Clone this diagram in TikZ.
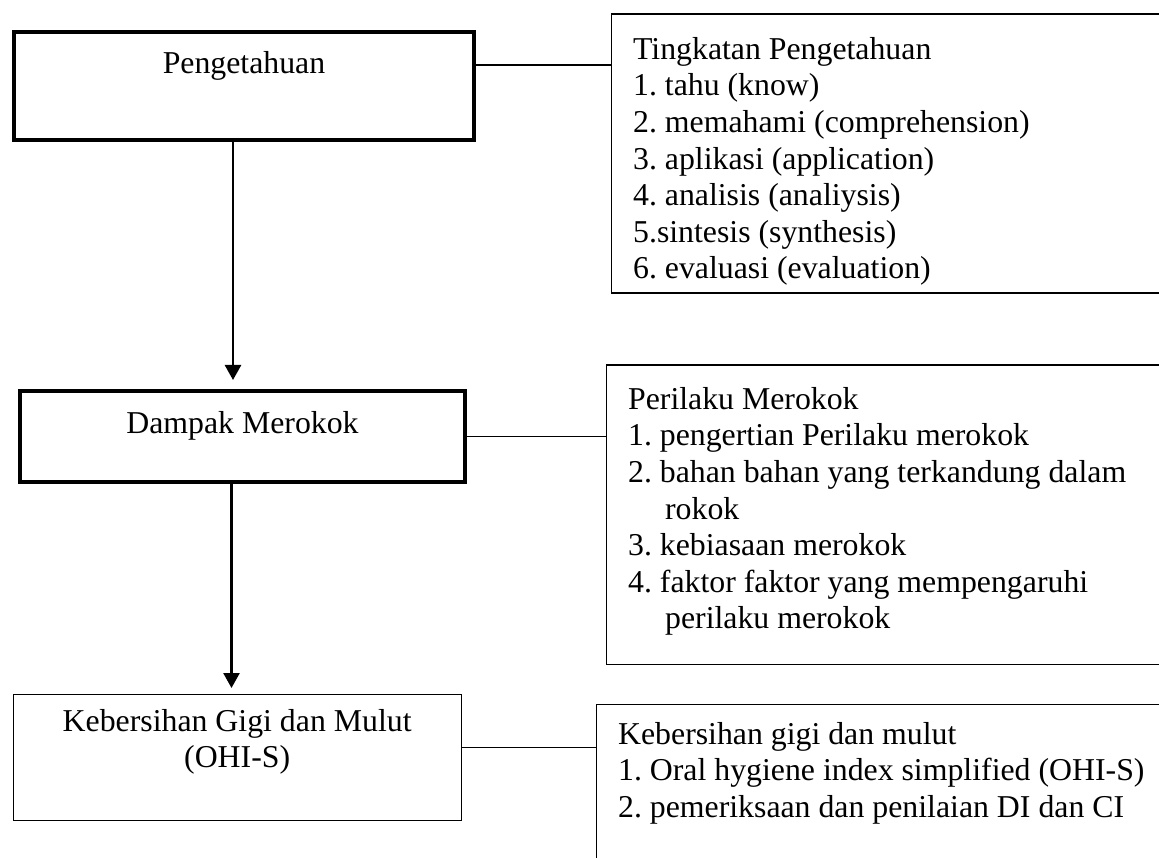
\documentclass[tikz,border=0pt]{standalone}
\usepackage{fontspec}
\setmainfont{Liberation Serif}
\usetikzlibrary{positioning, arrows.meta}
\frenchspacing

\newcommand{\midtext}[4]{\parbox[t][#2][t]{#1}{\centering\vspace*{#3}#4\par}}
\newcommand{\listtext}[4]{\parbox[t][#2][t]{#1}{\raggedright\leftskip=22pt\vspace*{#3}#4\par}}

\tikzset{
    mainbox/.style={draw, line width=4pt, inner sep=0pt, anchor=north west},
    plainbox/.style={draw, line width=1.3pt, inner sep=0pt, anchor=north west},
    link/.style={line width=1.3pt},
    flow/.style={line width=2.5pt, -{Triangle[width=16pt,length=15pt]}}
}

\begin{document}
\begin{tikzpicture}[x=1pt, y=-1pt, font=\fontsize{31.8}{36.6}\selectfont]
\useasboundingbox (0,0) rectangle (1159,858);
\clip (0,0) rectangle (1159,858);

% left column
\node[mainbox] (peng) at (12,30) {\midtext{460pt}{108pt}{19pt}{Pengetahuan}};
\node[mainbox] (dampak) at (18,389) {\midtext{445pt}{91pt}{20pt}{Dampak Merokok}};
\node[plainbox] (kgm) at (12.5,693.5) {\midtext{448pt}{126pt}{15pt}{Kebersihan Gigi dan Mulut\\(OHI-S)}};

% right column
\node[plainbox] (tingkat) at (610.5,13.5) {\listtext{600pt}{279pt}{23pt}{%
    Tingkatan Pengetahuan\\
    1. tahu (know)\\
    2. memahami (comprehension)\\
    3. aplikasi (application)\\
    4. analisis (analiysis)\\
    5.sintesis (synthesis)\\
    6. evaluasi (evaluation)}};
\node[plainbox] (perilaku) at (605.5,364.5) {\listtext{600pt}{299pt}{22pt}{%
    Perilaku Merokok\\
    1. pengertian Perilaku merokok\\
    2. bahan bahan yang terkandung dalam\\
    \hspace*{37pt}rokok\\
    3. kebiasaan merokok\\
    4. faktor faktor yang mempengaruhi\\
    \hspace*{37pt}perilaku merokok}};
\node[plainbox] (ohis) at (595.5,703.5) {\listtext{600pt}{220pt}{18pt}{%
    Kebersihan gigi dan mulut\\
    1. Oral hygiene index simplified (OHI-S)\\
    2. pemeriksaan dan penilaian DI dan CI}};

\path[link]
    ([yshift=21pt]peng.east) edge ([yshift=21pt]peng.east -| tingkat.west)
    (dampak.east) edge (dampak.east -| perilaku.west)
    ([yshift=10pt]kgm.east) edge ([yshift=10pt]kgm.east -| ohis.west);
\draw[flow, shorten >=9pt] ([xshift=-11pt]peng.south) -- ([xshift=-11pt]peng.south |- dampak.north);
\draw[flow, shorten >=5.5pt] ([xshift=-11pt]dampak.south) -- ([xshift=-11pt]dampak.south |- kgm.north);
\end{tikzpicture}
\end{document}
